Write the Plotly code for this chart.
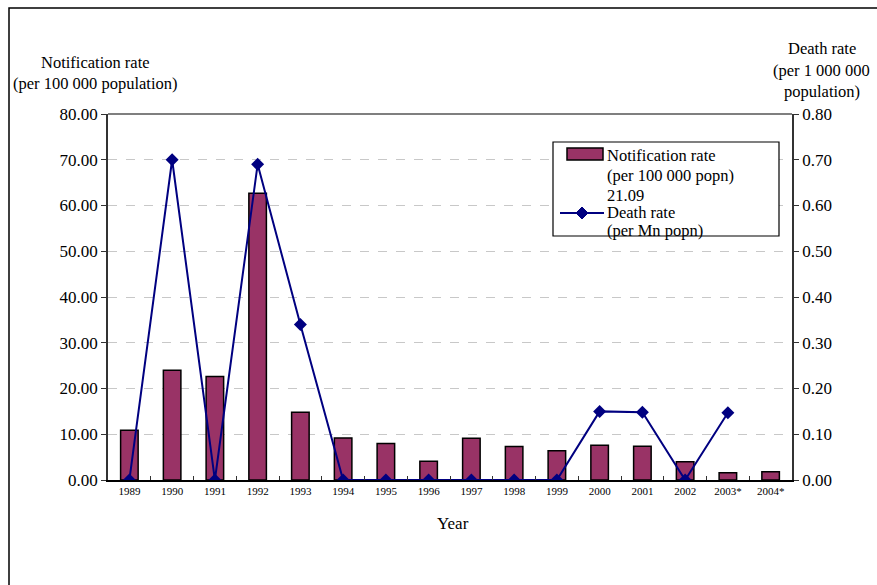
import plotly.graph_objects as go

years = ["1989", "1990", "1991", "1992", "1993", "1994", "1995", "1996",
         "1997", "1998", "1999", "2000", "2001", "2002", "2003*", "2004*"]
notification_rate = [10.9, 24.0, 22.6, 62.7, 14.8, 9.2, 8.0, 4.1,
                     9.1, 7.3, 6.4, 7.6, 7.4, 4.0, 1.6, 1.8]
death_rate = [0.0, 0.70, 0.0, 0.69, 0.34, 0.0, 0.0, 0.0,
              0.0, 0.0, 0.0, 0.15, 0.148, 0.0, 0.147, None]
left_ticks = [0, 10, 20, 30, 40, 50, 60, 70, 80]
right_ticks = [0, 0.1, 0.2, 0.3, 0.4, 0.5, 0.6, 0.7, 0.8]
legend_bar_lines = ["Notification rate", "(per 100 000 popn)", "21.09"]
legend_line_lines = ["Death rate", "(per Mn popn)"]

FONT = "Liberation Serif"
FS = 16.5
BAR_COLOR = "#993366"
LINE_COLOR = "#000080"
W, H = 877, 585
L, R, T, B = 108, 85, 114, 105
pw, ph = W - L - R, H - T - B


def px_x(x):
    return (x - L) / pw


def px_y(y):
    return (H - B - y) / ph


fig = go.Figure()
fig.add_trace(go.Bar(
    x=years, y=notification_rate, name="Notification rate",
    marker=dict(color=BAR_COLOR, line=dict(color="black", width=1.5)),
    yaxis="y",
))
fig.add_trace(go.Scatter(
    x=years, y=death_rate, mode="lines+markers", name="Death rate",
    line=dict(color=LINE_COLOR, width=2),
    marker=dict(symbol="diamond", size=10, color=LINE_COLOR),
    yaxis="y2", connectgaps=False,
))


def ann(text, x, y, size=FS, xanchor="center"):
    return dict(text=text, xref="paper", yref="paper", x=px_x(x), y=px_y(y),
                xanchor=xanchor, yanchor="middle", showarrow=False,
                font=dict(family=FONT, size=size, color="black"))


annotations = [
    ann("Notification rate", 95, 62),
    ann("(per 100 000 population)", 95, 84),
    ann("Death rate", 822, 48),
    ann("(per 1 000 000", 822, 70),
    ann("population)", 822, 92),
    ann("Year", 453, 523, size=17),
]
# legend text
for i, t in enumerate(legend_bar_lines):
    annotations.append(ann(t, 605, 155 + i * 20, xanchor="left"))
for i, t in enumerate(legend_line_lines):
    annotations.append(ann(t, 605, 212 + i * 18, xanchor="left"))

dx, dy = 6, 6
cx, cy = 582, 213
diamond = (f"M {px_x(cx)} {px_y(cy - dy)} L {px_x(cx + dx)} {px_y(cy)} "
           f"L {px_x(cx)} {px_y(cy + dy)} L {px_x(cx - dx)} {px_y(cy)} Z")

shapes = [
    dict(type="line", xref="paper", yref="paper", x0=0, x1=1, y0=1, y1=1,
         line=dict(color="#555", width=1.5)),
    dict(type="rect", xref="paper", yref="paper",
         x0=px_x(9), x1=px_x(890), y0=px_y(8), y1=px_y(600),
         line=dict(color="black", width=1.5)),
    # legend box
    dict(type="rect", xref="paper", yref="paper",
         x0=px_x(553), x1=px_x(779), y0=px_y(142), y1=px_y(236),
         line=dict(color="black", width=1.2), fillcolor="white", layer="above"),
    dict(type="rect", xref="paper", yref="paper",
         x0=px_x(567), x1=px_x(603), y0=px_y(148), y1=px_y(160),
         line=dict(color="black", width=1.5), fillcolor=BAR_COLOR, layer="above"),
    dict(type="line", xref="paper", yref="paper",
         x0=px_x(560), x1=px_x(604), y0=px_y(213), y1=px_y(213),
         line=dict(color=LINE_COLOR, width=2), layer="above"),
    dict(type="path", xref="paper", yref="paper", path=diamond,
         fillcolor=LINE_COLOR, line=dict(color=LINE_COLOR, width=1), layer="above"),
]

fig.update_layout(
    width=W, height=H,
    margin=dict(l=L, r=R, t=T, b=B),
    paper_bgcolor="white", plot_bgcolor="white",
    font=dict(family=FONT, size=FS, color="black"),
    bargap=0.59,
    showlegend=False,
    xaxis=dict(
        type="category", showline=True, linecolor="black", linewidth=1.5,
        ticks="inside", ticklen=4, tickson="boundaries",
        tickcolor="#333", tickfont=dict(family=FONT, size=11), showgrid=False,
        range=[-0.5, 15.5],
    ),
    yaxis=dict(
        range=[0, 80], tickvals=left_ticks, tickformat=".2f",
        showline=True, linecolor="#333", linewidth=1.5, ticks="outside",
        ticklen=5, tickcolor="#333", showgrid=True, gridcolor="#c8c8c8",
        griddash="dash", gridwidth=1, zeroline=False,
        tickfont=dict(family=FONT, size=17),
    ),
    yaxis2=dict(
        range=[0, 0.8], tickvals=right_ticks, tickformat=".2f",
        overlaying="y", side="right", showline=True, linecolor="#333",
        linewidth=1.5, ticks="outside", ticklen=5, tickcolor="#333",
        showgrid=False, zeroline=False, tickfont=dict(family=FONT, size=17),
    ),
    shapes=shapes,
    annotations=annotations,
)

fig.write_html("out.html")
